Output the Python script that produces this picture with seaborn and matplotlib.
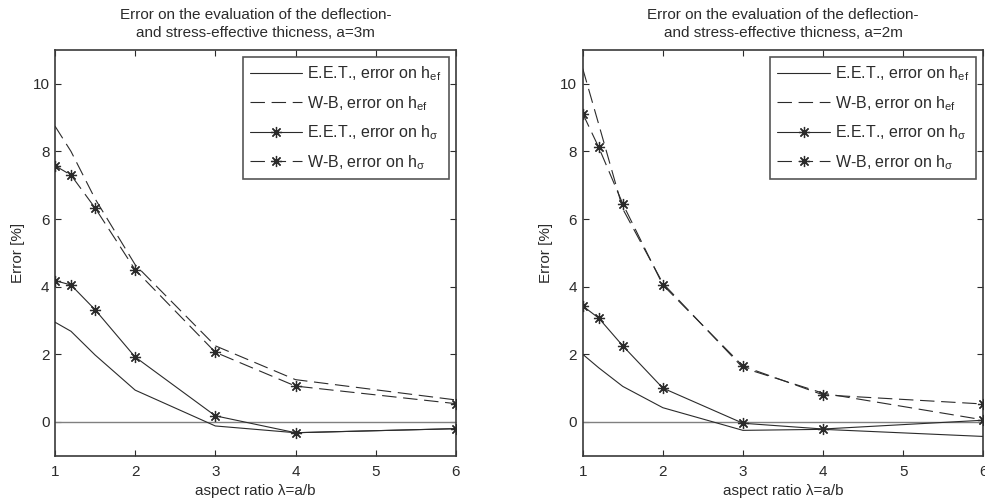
import pandas as pd
import seaborn as sns
import matplotlib.pyplot as plt

# aspect ratio lambda = a/b
ratio = [1, 1.2, 1.5, 2, 3, 4, 6]

# a = 3 m
eet_hef_3 = [2.95, 2.68, 1.98, 0.94, -0.12, -0.32, -0.2]
wb_hef_3 = [8.75, 8.0, 6.6, 4.65, 2.25, 1.25, 0.65]
eet_hs_3 = [4.18, 4.05, 3.32, 1.92, 0.18, -0.32, -0.2]
wb_hs_3 = [7.58, 7.3, 6.33, 4.5, 2.06, 1.06, 0.54]

# a = 2 m
eet_hef_2 = [2.0, 1.6, 1.05, 0.42, -0.25, -0.22, -0.43]
wb_hef_2 = [10.45, 8.8, 6.3, 4.1, 1.6, 0.85, 0.06]
eet_hs_2 = [3.43, 3.07, 2.25, 1.0, -0.04, -0.21, 0.05]
wb_hs_2 = [9.12, 8.12, 6.45, 4.05, 1.65, 0.8, 0.53]

labels = [r'E.E.T., error on h$_{\mathrm{ef}}$',
          r'W-B, error on h$_{\mathrm{ef}}$',
          r'E.E.T., error on h$_{\sigma}$',
          r'W-B, error on h$_{\sigma}$']
titles = ['Error on the evaluation of the deflection-\nand stress-effective thicness, a=3m',
          'Error on the evaluation of the deflection-\nand stress-effective thicness, a=2m']
xticks = [1, 2, 3, 4, 5, 6]
yticks = [0, 2, 4, 6, 8, 10]

sns.set_style('ticks')
plt.rcParams['font.family'] = ['Liberation Sans', 'DejaVu Sans']
plt.rcParams['mathtext.fontset'] = 'custom'
plt.rcParams['mathtext.rm'] = 'Liberation Sans'
plt.rcParams['mathtext.it'] = 'Liberation Sans'

ink = '#2b2b2b'
dash = (0, (13, 6))
star = (8, 2, 0)

fig = plt.figure(figsize=(9.85, 5.04), dpi=100)
ax1 = fig.add_axes([0.0558, 0.0958, 0.407, 0.805])
ax2 = fig.add_axes([0.5916, 0.0958, 0.4067, 0.805])

panels = [(ax1, [eet_hef_3, wb_hef_3, eet_hs_3, wb_hs_3], titles[0]),
          (ax2, [eet_hef_2, wb_hef_2, eet_hs_2, wb_hs_2], titles[1])]

for ax, series, title in panels:
    ax.axhline(0, color='#808080', lw=1.0, zorder=1)
    styles = [('-', None), (dash, None), ('-', star), (dash, star)]
    for vals, lab, (ls, mk) in zip(series, labels, styles):
        df = pd.DataFrame({'ratio': ratio, 'err': vals})
        sns.lineplot(data=df, x='ratio', y='err', ax=ax, color=ink, lw=0.8,
                     linestyle=ls, marker=mk, markersize=8, markeredgewidth=0.9,
                     markeredgecolor=ink, label=lab, zorder=3)
    ax.set_xlim(1, 6)
    ax.set_ylim(-1, 11)
    ax.set_xticks(xticks)
    ax.set_yticks(yticks)
    ax.tick_params(direction='in', top=True, right=True, labelsize=11,
                   colors=ink, length=4, width=0.8, pad=7)
    ax.tick_params(axis='y', pad=4)
    for sp in ax.spines.values():
        sp.set_color('#3a3a3a')
        sp.set_linewidth(1.2)
    ax.set_xlabel('aspect ratio λ=a/b', fontsize=11, color=ink, labelpad=3)
    ax.set_ylabel('Error [%]', fontsize=11, color=ink, labelpad=5)
    ax.set_title(title, fontsize=11, color=ink, pad=9, linespacing=1.45)
    leg = ax.legend(loc='upper right', fontsize=11.5, frameon=True, fancybox=False,
                    edgecolor=ink, handlelength=3.3, labelspacing=0.68,
                    borderaxespad=0.45, handletextpad=0.3, borderpad=0.45)
    leg.get_frame().set_linewidth(1.2)
    for t in leg.get_texts():
        t.set_color(ink)

plt.savefig('out.png', dpi=100)
